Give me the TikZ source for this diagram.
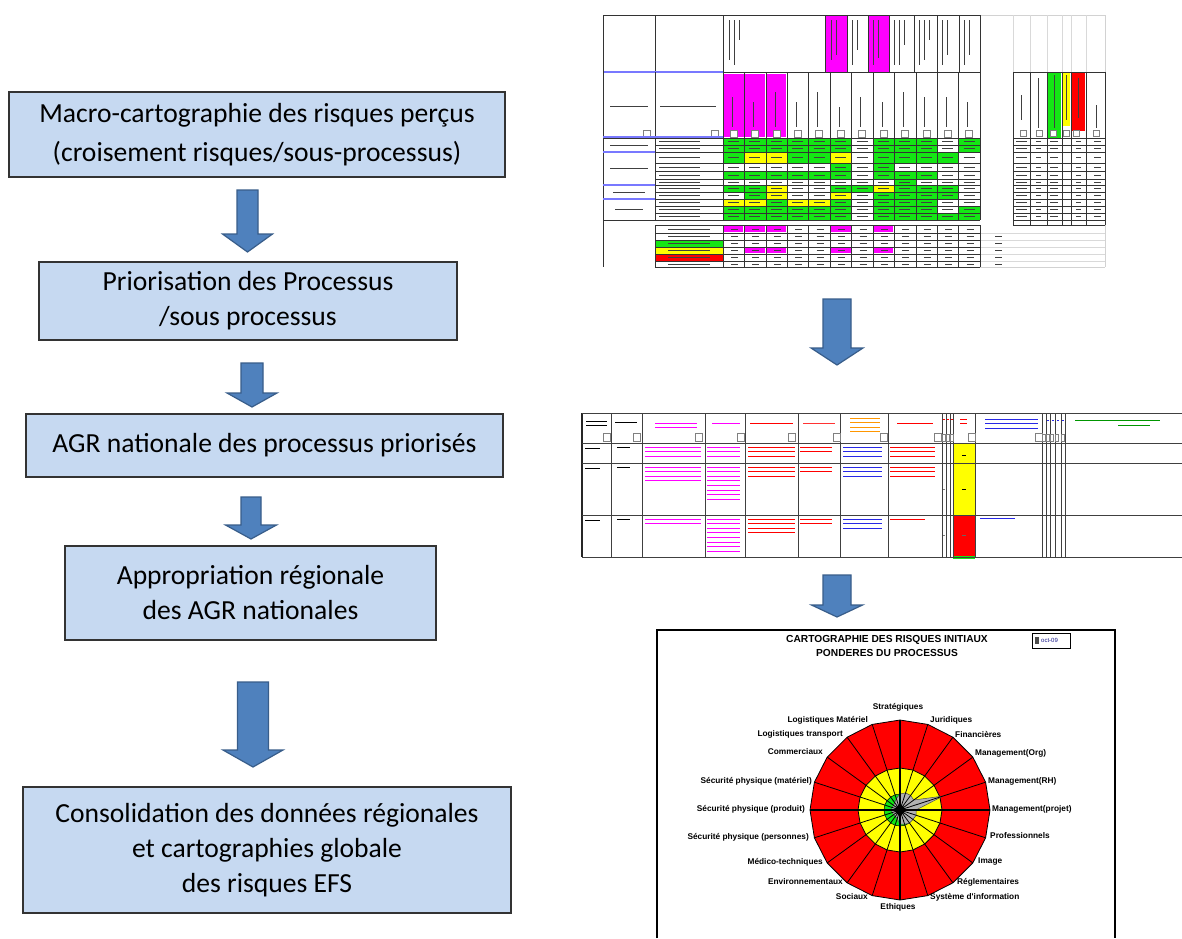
\documentclass[tikz,border=0pt]{standalone}
\usepackage{fontspec}
\setmainfont{Carlito}
\newfontfamily\arialf{Liberation Sans}
\definecolor{boxblue}{RGB}{198,217,241}
\definecolor{arrfill}{RGB}{79,129,189}
\definecolor{arrline}{RGB}{56,93,138}
\definecolor{cG}{RGB}{20,230,20}
\definecolor{cY}{RGB}{255,255,0}
\definecolor{cW}{RGB}{255,255,255}
\definecolor{cM}{RGB}{255,0,255}
\definecolor{cR}{RGB}{255,0,0}
\definecolor{xblue}{RGB}{40,40,230}
\definecolor{xorange}{RGB}{255,150,0}
\definecolor{xgreen}{RGB}{0,150,0}
\definecolor{lblue}{RGB}{120,120,255}
\newcommand\BlockArr[6]{\filldraw[barrow] (#1-#4,#2) -- (#1+#4,#2) -- (#1+#4,#3-#6) -- (#1+#5,#3-#6) -- (#1,#3) -- (#1-#5,#3-#6) -- (#1-#4,#3-#6) -- cycle;}
\newcommand\TxtLines[5]{\foreach \kk in {1,...,#4}{\draw[#5, line width=0.9pt] (#1,{#3+(\kk-1)*4.6}) -- (#2,{#3+(\kk-1)*4.6});}}
\begin{document}
\begin{tikzpicture}[x=1pt,y=-1pt,
  box/.style={draw=black!80, line width=1.6pt, fill=boxblue, align=center, inner sep=0pt, font=\fontsize{27.6}{35}\selectfont},
  barrow/.style={fill=arrfill, draw=arrline, line width=1.2pt, line join=miter},
  txm/.style={black!75, line width=0.9pt},
  grid1/.style={black!80, line width=0.5pt},
  fbtn/.style={gray, line width=0.5pt, fill=white},
  lab/.style={font=\arialf\bfseries\fontsize{8.3}{9}\selectfont, inner sep=0pt},
  ttl/.style={font=\arialf\bfseries\fontsize{10.2}{11}\selectfont, inner sep=0pt}]
\useasboundingbox (0,0) rectangle (1182,938);
\fill[white] (0,0) rectangle (1182,938);

% ---------------- left column ----------------
\node[box, minimum width=496pt, minimum height=85pt, font=\fontsize{27.6}{39}\selectfont] (b1) at (257,134.5) {Macro-cartographie des risques perçus\\(croisement risques/sous-processus)};
\node[box, minimum width=418pt, minimum height=78pt] (b2) at (248,301) {Priorisation des Processus\\/sous processus};
\node[box, minimum width=477pt, minimum height=63pt] (b3) at (264.5,445.5) {AGR nationale des processus priorisés};
\node[box, minimum width=371pt, minimum height=94pt] (b4) at (250.5,593) {Appropriation régionale\\des AGR nationales};
\node[box, minimum width=488pt, minimum height=126pt] (b5) at (267,850) {Consolidation des données régionales\\et cartographies globale\\des risques EFS};

\BlockArr{247.5}{190}{252}{10.5}{25}{18}
\BlockArr{252}{363}{407}{11}{25}{14}
\BlockArr{251}{497}{539}{10}{25.5}{14}
\BlockArr{253}{682}{767}{15.5}{30}{17}
\BlockArr{837}{299}{365}{14}{26}{17}
\BlockArr{837}{575}{617}{14}{25.5}{12}

% ---------------- spreadsheet 1 ----------------
\fill[white] (603,15) rectangle (1105,267);
\draw[gray!35, line width=0.4pt] (980,15) -- (1105,15) (1105,15) -- (1105,267) (980,267) -- (1105,267);
\foreach \x in {1013,1030,1047,1062,1071,1086} \draw[gray!30, line width=0.4pt] (\x,15) -- (\x,72);
\foreach \y in {233,240,247,254,261} \draw[gray!30, line width=0.4pt] (980,\y) -- (1105,\y);
% top header
\fill[cM] (825,15) rectangle (847,72);
\fill[cM] (868,15) rectangle (889,72);
\foreach \x in {603,655,723,825,847,868,889,914,937,959,980} \draw[grid1] (\x,15) -- (\x,72);
\draw[grid1] (603,15) -- (980,15);
\foreach \x/\L in {729/40,734/45,739/20,831/40,836/35,852/45,857/30,873/45,878/38,894/45,899/45,904/25,919/45,924/40,929/20,942/45,947/35,964/45,969/35}
  \draw[txm, line width=0.7pt] (\x,20) -- (\x,20+\L);
% lower header
\foreach \i in {0,1,2} \fill[cM] ({723+\i*21.42+0.8},74) rectangle ({723+(\i+1)*21.42-0.8},137);
\draw[grid1] (723,72) -- (980,72);
\draw[lblue, line width=1.2pt] (603,72) -- (723,72);
\foreach \i/\L in {0/30,1/25,2/35,3/25,4/35,5/20,6/30,7/25,8/35,9/30,10/30,11/25}
  \draw[txm, line width=0.7pt] ({723+\i*21.42+9},{127-\L}) -- ({723+\i*21.42+9},127);
\draw[txm] (610,106) -- (648,106);
\draw[txm] (660,106) -- (716,106);
\foreach \i in {0,...,11} \draw[fbtn] ({723+\i*21.42+7},130) rectangle +(7,7);
\draw[fbtn] (643,130) rectangle +(7,7);
\draw[fbtn] (711,130) rectangle +(7,7);
% data cells
\foreach \ya/\yb/\pat in {
  138/145/{G,G,G,G,G,G,W,G,G,G,W,G},
  145/152/{G,G,G,G,G,G,W,G,G,G,W,G},
  152/163/{G,Y,Y,G,G,Y,W,G,G,G,G,W},
  163/171/{W,W,W,W,W,G,W,G,W,W,W,W},
  171/179/{G,G,G,G,G,G,W,G,G,G,W,W},
  179/185/{W,W,W,W,W,W,W,W,G,W,W,W},
  185/192/{G,G,Y,W,W,G,G,Y,G,G,G,W},
  192/199/{W,G,Y,W,W,Y,W,G,G,G,G,W},
  199/206/{Y,Y,G,Y,Y,G,W,G,G,G,W,W},
  206/213/{G,G,G,G,G,G,W,G,G,G,W,G},
  213/220/{G,G,G,G,G,G,W,G,G,G,G,G}}{
  \foreach \cl [count=\i] in \pat {
    \pgfmathsetmacro\xa{723+(\i-1)*21.42}
    \fill[c\cl] (\xa,\ya) rectangle ({\xa+21.42},\yb);
    \draw[txm, line width=0.8pt] ({\xa+5},{(\ya+\yb)/2}) -- ({\xa+16},{(\ya+\yb)/2});
  }
  \draw[txm, line width=0.7pt] (659,{(\ya+\yb)/2}) -- (700,{(\ya+\yb)/2});
}
\foreach \y in {138,145,152,163,171,179,185,192,199,206,213,220} \draw[grid1] (655,\y) -- (980,\y);
\foreach \i in {0,...,12} \draw[grid1] ({723+\i*21.42},72) -- ({723+\i*21.42},220);
\draw[grid1] (603,15) -- (603,267);
\draw[grid1] (655,72) -- (655,220);
\draw[grid1] (603,138) -- (655,138);
\draw[grid1] (603,220) -- (655,220);
\draw[lblue, line width=1.2pt] (603,137) -- (723,137);
\foreach \y in {152,185,199} \draw[lblue, line width=1.2pt] (603,\y) -- (655,\y);
\draw[txm] (610,145) -- (648,145);
\draw[txm] (610,168) -- (648,168);
\draw[txm] (613,192) -- (645,192);
\draw[txm] (615,209) -- (643,209);
% bottom summary
\foreach \i in {0,1,2,5,7} \fill[cM] ({723+\i*21.42+1},226) rectangle ({723+(\i+1)*21.42-1},232);
\foreach \i in {1,2,5,7} \fill[cM] ({723+\i*21.42+1},248) rectangle ({723+(\i+1)*21.42-1},253);
\fill[cG] (656,240) rectangle (723,247);
\fill[cY] (656,247) rectangle (723,254);
\fill[cR] (656,254) rectangle (723,261);
\foreach \y in {225,233,240,247,254,261,267} \draw[grid1] (655,\y) -- (980,\y);
\foreach \i in {0,...,12} \draw[grid1] ({723+\i*21.42},225) -- ({723+\i*21.42},267);
\draw[grid1] (655,225) -- (655,267);
\foreach \y in {229,236.5,243.5,250.5,257.5,264} {
  \draw[txm, line width=0.7pt] (668,\y) -- (710,\y);
  \foreach \i in {0,...,11} \draw[txm, line width=0.7pt] ({723+\i*21.42+8},\y) -- ({723+\i*21.42+15},\y);
}
\foreach \y in {236,243,250,257,264} \draw[txm, line width=0.6pt] (995,\y) -- (1002,\y);
% right summary table
\fill[cG] (1047,72) rectangle (1061,138);
\fill[cY] (1062,72) rectangle (1070,126);
\fill[cR] (1072,72) rectangle (1085,131);
\foreach \x in {1013,1030,1047,1062,1071,1086,1105} \draw[grid1] (\x,72) -- (\x,225);
\foreach \y in {72,138,145,152,163,171,179,185,192,199,206,213,220,225} \draw[grid1] (1013,\y) -- (1105,\y);
\foreach \x/\ya/\yb in {1021/95/120,1038/78/128,1054/75/128,1066/75/120,1078/78/118,1096/105/128}
  \draw[txm, line width=0.7pt] (\x,\ya) -- (\x,\yb);
\foreach \x in {1020,1036,1050,1063,1073,1093} \draw[fbtn] (\x,130) rectangle +(6,6);
\foreach \y in {141.5,148.5,157.5,167,175,182,188.5,195.5,202.5,209.5,216.5} {
  \draw[txm, line width=0.7pt] (1016,\y) -- (1027,\y);
  \draw[txm, line width=0.7pt] (1036,\y) -- (1041,\y);
  \draw[txm, line width=0.7pt] (1050,\y) -- (1058,\y);
  \draw[txm, line width=0.7pt] (1076,\y) -- (1081,\y);
  \draw[txm, line width=0.7pt] (1094,\y) -- (1101,\y);
}

% ---------------- spreadsheet 2 ----------------
\fill[white] (582,413) rectangle (1182,557);
\fill[cY] (953,443) rectangle (975,515);
\fill[cR] (953,515) rectangle (975,557);
\fill[cG] (953,556) rectangle (975,559);
\foreach \x in {611,642,705,745,798,840,888,942,946,950,953,975,1042,1046,1050,1055,1061,1065}
  \draw[black!75, line width=1pt] (\x,413) -- (\x,557);
\draw[black!85, line width=2pt] (582,413) -- (582,557);
\foreach \y in {413,443,463,515,557} \draw[black!75, line width=1pt] (582,\y) -- (1182,\y);
\foreach \x in {603,633,695,737,788,833,880,934,968,1035} \draw[fbtn] (\x,433) rectangle +(7,8);
\foreach \x in {942.5,946.5,950.5,1042.5,1046.5,1050.5,1055.5,1061.5} \draw[fbtn] (\x,434) rectangle +(3,7);
% header marks
\TxtLines{586}{607}{421}{2}{black}
\TxtLines{615}{637}{422}{1}{black}
\TxtLines{655}{697}{423}{2}{cM}
\TxtLines{712}{740}{423}{1}{cM}
\TxtLines{750}{793}{423}{1}{cR}
\TxtLines{803}{835}{423}{1}{cR!80}
\TxtLines{850}{880}{418}{4}{xorange}
\TxtLines{897}{933}{423}{1}{cR}
\TxtLines{960}{967}{419}{2}{cR}
\TxtLines{985}{1038}{419}{3}{xblue}
\TxtLines{1075}{1160}{420}{1}{xgreen}
\TxtLines{1118}{1150}{425}{1}{xgreen}
\foreach \x in {943,947,951} \draw[cR, line width=1pt] (\x,419) -- (\x+1.5,419);
\foreach \x in {1047,1052,1057,1062} \draw[xblue, line width=1pt] (\x,420) -- (\x+1.5,420);
% row 1
\TxtLines{585}{600}{448}{1}{black}
\TxtLines{617}{630}{447}{1}{black}
\TxtLines{645}{701}{447}{3}{cM}
\TxtLines{707}{740}{447}{3}{cM}
\TxtLines{748}{795}{447}{3}{cR}
\TxtLines{800}{832}{447}{2}{cR}
\TxtLines{843}{882}{447}{3}{xblue}
\TxtLines{890}{935}{447}{3}{cR}
\draw[black, line width=0.9pt] (962,455) -- (966,455);
% row 2
\TxtLines{585}{600}{468}{1}{black}
\TxtLines{617}{630}{467}{1}{black}
\TxtLines{645}{701}{467}{4}{cM}
\TxtLines{707}{740}{467}{8}{cM}
\TxtLines{748}{795}{467}{3}{cR}
\TxtLines{800}{832}{467}{2}{cR}
\TxtLines{843}{882}{467}{3}{xblue}
\TxtLines{890}{935}{467}{3}{cR}
\draw[black, line width=0.9pt] (962,489) -- (966,489);
\draw[gray, line width=0.8pt] (943,489) -- (945,489);
% row 3
\TxtLines{585}{600}{520}{1}{black}
\TxtLines{617}{630}{519}{1}{black}
\TxtLines{645}{701}{519}{2}{cM}
\TxtLines{707}{740}{519}{8}{cM}
\TxtLines{748}{795}{519}{4}{cR}
\TxtLines{800}{832}{519}{2}{cR}
\TxtLines{843}{882}{519}{3}{xblue}
\TxtLines{890}{925}{519}{1}{cR}
\TxtLines{980}{1015}{518}{1}{xblue}
\draw[black!60, line width=0.9pt] (962,535) -- (966,535);
\draw[gray, line width=0.8pt] (943,535) -- (945,535);

% ---------------- radar chart ----------------
\draw[black, line width=1.5pt] (657,938) -- (657,630) -- (1115,630) -- (1115,938);
\node[ttl] (t1) at (887,640) {CARTOGRAPHIE DES RISQUES INITIAUX};
\node[ttl] (t2) at (887,653) {PONDERES DU PROCESSUS};
\draw[black, line width=1pt] (1032,633) rectangle (1070,648);
\fill[gray!60!black] (1035,637) rectangle (1039,644);
\node[font=\arialf\fontsize{6}{7}\selectfont, anchor=west, inner sep=0pt, text=xblue!60!black] (lg) at (1041,640.5) {oct-09};
\begin{scope}[shift={(900,810)}, yscale=-1]
  \filldraw[fill=cR, draw=black, line width=0.8pt] (90:90) \foreach \k in {1,...,19}{ -- ({90-18*\k}:90)} -- cycle;
  \filldraw[fill=cY, draw=black, line width=0.8pt] (90:42) \foreach \k in {1,...,19}{ -- ({90-18*\k}:42)} -- cycle;
  \filldraw[fill=cG, draw=black, line width=0.5pt] (90:16) \foreach \k in {1,...,19}{ -- ({90-18*\k}:16)} -- cycle;
  \filldraw[fill=gray!60, draw=black!70, line width=0.5pt] (90:16)
    \foreach \k/\r in {1/18,2/18,3/17,4/45,5/16,6/17,7/16,8/16,9/15,10/14,11/9,12/8,13/8,14/8,15/9,16/8,17/8,18/9,19/12}{ -- ({90-18*\k}:\r)} -- cycle;
  \foreach \k in {0,...,19} \draw[black, line width=0.8pt] (0,0) -- ({90-18*\k}:90);
  \draw[black, line width=1.2pt] (180:90) -- (0:90) (90:90) -- (270:90);
  \fill[black] (0,0) circle (5);
\end{scope}
\node[lab] (l0) at (898,707) {Stratégiques};
\node[lab, anchor=west] (l1) at (930,720) {Juridiques};
\node[lab, anchor=west] (l2) at (955,734) {Financières};
\node[lab, anchor=west] (l3) at (975,753) {Management(Org)};
\node[lab, anchor=west] (l4) at (988,781) {Management(RH)};
\node[lab, anchor=west] (l5) at (992,809) {Management(projet)};
\node[lab, anchor=west] (l6) at (990,836) {Professionnels};
\node[lab, anchor=west] (l7) at (978,862) {Image};
\node[lab, anchor=west] (l8) at (957,882) {Réglementaires};
\node[lab, anchor=west] (l9) at (930,897) {Système d'information};
\node[lab] (l10) at (898,907) {Ethiques};
\node[lab, anchor=east] (l11) at (868,897) {Sociaux};
\node[lab, anchor=east] (l12) at (843,882) {Environnementaux};
\node[lab, anchor=east] (l13) at (823,862) {Médico-techniques};
\node[lab, anchor=east] (l14) at (809,837) {Sécurité physique (personnes)};
\node[lab, anchor=east] (l15) at (805,809) {Sécurité physique (produit)};
\node[lab, anchor=east] (l16) at (812,781) {Sécurité physique (matériel)};
\node[lab, anchor=east] (l17) at (823,752) {Commerciaux};
\node[lab, anchor=east] (l18) at (843,734) {Logistiques transport};
\node[lab, anchor=east] (l19) at (868,720) {Logistiques Matériel};
\end{tikzpicture}
\end{document}
